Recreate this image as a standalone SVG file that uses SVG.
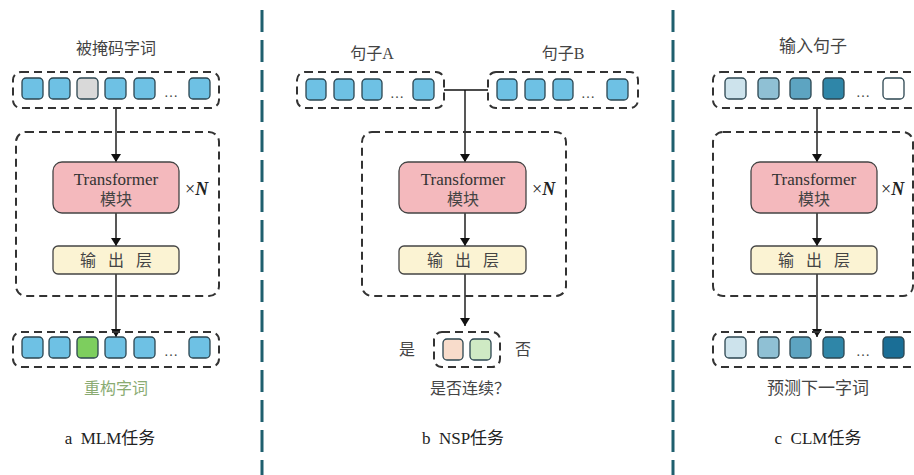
<svg xmlns="http://www.w3.org/2000/svg" width="914" height="475" viewBox="0 0 914 475">
<defs>
<marker id="ah" viewBox="0 0 8 10" refX="8" refY="5" markerWidth="8" markerHeight="10" markerUnits="userSpaceOnUse" orient="auto">
<path d="M0,0 L8,5 L0,10 z" fill="#111"/>
</marker>
<style>
.dash{fill:none;stroke:#333;stroke-width:2;stroke-dasharray:8 5}
.cell{stroke:#2b4550;stroke-width:1.3}
.blue{fill:#6ec1e4}
.tf{fill:#f4b9bd;stroke:#444;stroke-width:1.3}
.out{fill:#fbf3d3;stroke:#444;stroke-width:1.3}
.t{font-family:"Liberation Serif","Noto Sans CJK SC",serif;fill:#333;text-anchor:middle}
.cn{font-family:"Liberation Serif","Noto Sans CJK SC",serif;fill:#444;text-anchor:middle}
.dots{font-family:"Liberation Serif",serif;fill:#444;font-size:14px;text-anchor:middle}
.div{stroke:#1f5f6e;stroke-width:3;stroke-dasharray:22 8}
.ln{stroke:#111;stroke-width:1.4;fill:none}
.xn{font-family:"Liberation Serif",serif;font-size:18px;fill:#222}
</style>
</defs>
<rect width="914" height="475" fill="#fff"/>

<g id="dividers">
<line class="div" x1="262" y1="10" x2="262" y2="475"/>
<line class="div" x1="673" y1="10" x2="673" y2="475"/>
</g>

<g id="connectors">
<line class="ln" x1="116" y1="108" x2="116" y2="162" marker-end="url(#ah)"/>
<line class="ln" x1="116" y1="213" x2="116" y2="246" marker-end="url(#ah)"/>
<line class="ln" x1="116" y1="274" x2="116" y2="337" marker-end="url(#ah)"/>
<polyline class="ln" points="444,90 488,90"/>
<line class="ln" x1="465" y1="90" x2="465" y2="162" marker-end="url(#ah)"/>
<line class="ln" x1="465" y1="213" x2="465" y2="246" marker-end="url(#ah)"/>
<line class="ln" x1="465" y1="274" x2="465" y2="326" marker-end="url(#ah)"/>
<line class="ln" x1="817" y1="108" x2="817" y2="162" marker-end="url(#ah)"/>
<line class="ln" x1="817" y1="213" x2="817" y2="246" marker-end="url(#ah)"/>
<line class="ln" x1="817" y1="274" x2="817" y2="337" marker-end="url(#ah)"/>
</g>

<!-- Panel a -->
<g id="a-input">
<text class="cn" x="116" y="54" font-size="16">被掩码字词</text>
<rect class="dash" x="13" y="72" width="206" height="36" rx="8"/>
<rect class="cell blue" x="22" y="78" width="21" height="21" rx="4"/>
<rect class="cell blue" x="49" y="78" width="21" height="21" rx="4"/>
<rect class="cell" fill="#d9d9d9" x="77" y="78" width="21" height="21" rx="4"/>
<rect class="cell blue" x="105" y="78" width="21" height="21" rx="4"/>
<rect class="cell blue" x="134" y="78" width="21" height="21" rx="4"/>
<text class="dots" x="171" y="97">…</text>
<rect class="cell blue" x="189" y="78" width="21" height="21" rx="4"/>
</g>
<g id="a-stack">
<rect class="dash" x="16" y="132" width="203" height="164" rx="10"/>
<text class="xn" x="185" y="195">×<tspan font-weight="bold" font-style="italic">N</tspan></text>
</g>
<g id="a-transformer">
<rect class="tf" x="53" y="162" width="126" height="51" rx="9"/>
<text class="t" x="116" y="185" font-size="17">Transformer</text>
<text class="cn" x="116" y="205" font-size="16">模块</text>
</g>
<g id="a-output-layer">
<rect class="out" x="53" y="246" width="126" height="28" rx="5"/>
<text class="cn" font-size="16" y="266"><tspan x="88">输</tspan><tspan x="116">出</tspan><tspan x="144">层</tspan></text>
</g>
<g id="a-output">
<rect class="dash" x="13" y="332" width="206" height="35" rx="8"/>
<rect class="cell blue" x="22" y="337" width="21" height="21" rx="4"/>
<rect class="cell blue" x="49" y="337" width="21" height="21" rx="4"/>
<rect class="cell" fill="#7dce5e" x="77" y="337" width="21" height="21" rx="4"/>
<rect class="cell blue" x="105" y="337" width="21" height="21" rx="4"/>
<rect class="cell blue" x="134" y="337" width="21" height="21" rx="4"/>
<text class="dots" x="171" y="356">…</text>
<rect class="cell blue" x="189" y="337" width="21" height="21" rx="4"/>
<text class="cn" x="116" y="394" font-size="16" style="fill:#8aab72">重构字词</text>
</g>
<g id="a-caption">
<text class="cn" x="110" y="444" font-size="17" style="fill:#222" xml:space="preserve">a  MLM任务</text>
</g>

<!-- Panel b -->
<g id="b-inputA">
<text class="cn" x="372" y="59" font-size="16">句子A</text>
<rect class="dash" x="297" y="72" width="147" height="36" rx="8"/>
<rect class="cell blue" x="306" y="79" width="20" height="21" rx="4"/>
<rect class="cell blue" x="334" y="79" width="20" height="21" rx="4"/>
<rect class="cell blue" x="362" y="79" width="20" height="21" rx="4"/>
<text class="dots" x="397" y="98">…</text>
<rect class="cell blue" x="413" y="79" width="21" height="21" rx="4"/>
</g>
<g id="b-inputB">
<text class="cn" x="563" y="59" font-size="16">句子B</text>
<rect class="dash" x="488" y="72" width="150" height="36" rx="8"/>
<rect class="cell blue" x="497" y="79" width="20" height="21" rx="4"/>
<rect class="cell blue" x="525" y="79" width="20" height="21" rx="4"/>
<rect class="cell blue" x="553" y="79" width="20" height="21" rx="4"/>
<text class="dots" x="588" y="98">…</text>
<rect class="cell blue" x="607" y="79" width="21" height="21" rx="4"/>
</g>
<g id="b-stack">
<rect class="dash" x="362" y="132" width="204" height="164" rx="10"/>
<text class="xn" x="532" y="195">×<tspan font-weight="bold" font-style="italic">N</tspan></text>
</g>
<g id="b-transformer">
<rect class="tf" x="399" y="162" width="127" height="51" rx="9"/>
<text class="t" x="463" y="185" font-size="17">Transformer</text>
<text class="cn" x="463" y="205" font-size="16">模块</text>
</g>
<g id="b-output-layer">
<rect class="out" x="399" y="246" width="127" height="28" rx="5"/>
<text class="cn" font-size="16" y="266"><tspan x="435">输</tspan><tspan x="463">出</tspan><tspan x="491">层</tspan></text>
</g>
<g id="b-output">
<text class="cn" x="407" y="355" font-size="16">是</text>
<rect class="dash" x="434" y="332" width="66" height="35" rx="8"/>
<rect class="cell" fill="#f8dccb" x="443" y="339" width="20" height="21" rx="4"/>
<rect class="cell" fill="#cfeac4" x="470" y="339" width="21" height="21" rx="4"/>
<text class="cn" x="523" y="355" font-size="16">否</text>
<text class="cn" x="470" y="394" font-size="16">是否连续？</text>
</g>
<g id="b-caption">
<text class="cn" x="463" y="444" font-size="17" style="fill:#222" xml:space="preserve">b  NSP任务</text>
</g>

<!-- Panel c -->
<g id="c-input">
<text class="cn" x="813" y="52" font-size="17">输入句子</text>
<rect class="dash" x="713" y="72" width="206" height="36" rx="8"/>
<rect class="cell" fill="#cde3ec" x="725" y="78" width="21" height="21" rx="4"/>
<rect class="cell" fill="#8fc0d4" x="758" y="78" width="21" height="21" rx="4"/>
<rect class="cell" fill="#5da4c1" x="790" y="78" width="21" height="21" rx="4"/>
<rect class="cell" fill="#2f86a8" x="823" y="78" width="21" height="21" rx="4"/>
<text class="dots" x="863" y="97">…</text>
<rect class="cell" fill="#ffffff" x="883" y="78" width="21" height="21" rx="4"/>
</g>
<g id="c-stack">
<rect class="dash" x="713" y="132" width="200" height="164" rx="10"/>
<text class="xn" x="881" y="195">×<tspan font-weight="bold" font-style="italic">N</tspan></text>
</g>
<g id="c-transformer">
<rect class="tf" x="751" y="162" width="126" height="51" rx="9"/>
<text class="t" x="814" y="185" font-size="17">Transformer</text>
<text class="cn" x="814" y="205" font-size="16">模块</text>
</g>
<g id="c-output-layer">
<rect class="out" x="751" y="246" width="126" height="28" rx="5"/>
<text class="cn" font-size="16" y="266"><tspan x="786">输</tspan><tspan x="814">出</tspan><tspan x="842">层</tspan></text>
</g>
<g id="c-output">
<rect class="dash" x="713" y="332" width="206" height="35" rx="8"/>
<rect class="cell" fill="#cde3ec" x="725" y="337" width="21" height="21" rx="4"/>
<rect class="cell" fill="#8fc0d4" x="758" y="337" width="21" height="21" rx="4"/>
<rect class="cell" fill="#5da4c1" x="790" y="337" width="21" height="21" rx="4"/>
<rect class="cell" fill="#2f86a8" x="823" y="337" width="21" height="21" rx="4"/>
<text class="dots" x="863" y="356">…</text>
<rect class="cell" fill="#1a6e96" x="883" y="337" width="21" height="21" rx="4"/>
<text class="cn" x="818" y="394" font-size="17">预测下一字词</text>
</g>
<g id="c-caption">
<text class="cn" x="818" y="444" font-size="17" style="fill:#222" xml:space="preserve">c  CLM任务</text>
</g>
</svg>
